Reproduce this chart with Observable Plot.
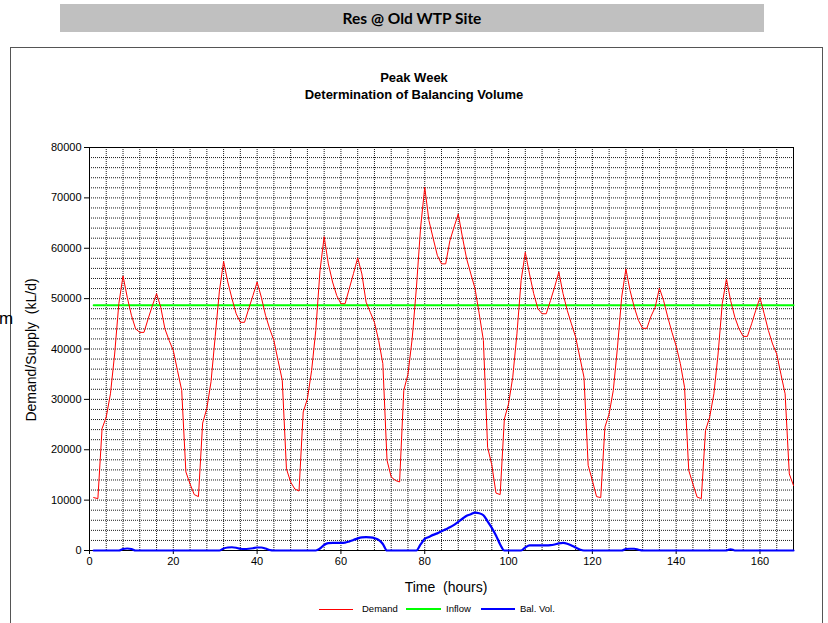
<!DOCTYPE html>
<html>
<head>
<meta charset="utf-8">
<script src="https://cdn.jsdelivr.net/npm/d3@7"></script>
<script src="https://cdn.jsdelivr.net/npm/@observablehq/plot@0.6"></script>
<style>
  html, body { margin: 0; padding: 0; background: #fff; }
  #wrap { position: relative; width: 828px; height: 623px; overflow: hidden; font-family: "Liberation Sans", Arial, sans-serif; color: #000; }
  #banner { position: absolute; left: 60px; top: 4px; width: 704px; height: 28px; background: #c0c0c0; }
  #bannerText { position: absolute; left: 0; top: 0; width: 100%; line-height: 28px; text-align: center; font-family: Lato, "Open Sans", sans-serif; font-weight: bold; font-size: 15.5px; }
  #border { position: absolute; left: 10px; top: 47px; width: 813px; height: 640px; border: 1px solid #555; box-sizing: border-box; }
  #title { position: absolute; left: 0; width: 828px; top: 69px; text-align: center; font-weight: bold; font-size: 13px; line-height: 17px; }
  #chart { position: absolute; left: 0; top: 0; }
  .abs { position: absolute; white-space: nowrap; }
  #ytitle { left: 31px; top: 350px; transform: translate(-50%, -50%) rotate(-90deg); font-size: 14px; }
  #xtitle { left: 446px; top: 587px; transform: translate(-50%, -50%); font-size: 14px; }
  #stray { left: -1px; top: 309px; font-size: 17px; }
  .lg-line { position: absolute; }
  .lg-text { position: absolute; top: 603px; font-size: 9.5px; line-height: 12px; }
</style>
</head>
<body>
<div id="wrap">
  <div id="banner"><div id="bannerText">Res @ Old WTP Site</div></div>
  <div id="border"></div>
  <div id="title">Peak Week<br>Determination of Balancing Volume</div>
  <div id="chart"></div>
  <div id="ytitle" class="abs">Demand/Supply&nbsp; (kL/d)</div>
  <div id="xtitle" class="abs">Time&nbsp; (hours)</div>
  <div id="stray" class="abs">m</div>
  <div class="lg-line" style="left:319px;top:609px;width:34px;height:1px;background:#ff0000;"></div>
  <div class="lg-text" style="left:362px;">Demand</div>
  <div class="lg-line" style="left:406px;top:608px;width:35px;height:2px;background:#00ff00;"></div>
  <div class="lg-text" style="left:446px;">Inflow</div>
  <div class="lg-line" style="left:481px;top:608px;width:34px;height:2px;background:#0000ff;"></div>
  <div class="lg-text" style="left:520px;">Bal. Vol.</div>
</div>
<script>
// ---- Data ----
// Hourly demand, kL/d, hours 1..168 (one row per day)
const demandDay1 = [10500, 10300, 24200, 26500, 31100, 39000, 49000, 54500, 50300, 46700, 44000, 43300, 43300, 46000, 48600, 51000, 48300, 44000, 41700, 39700, 35700, 31800, 15600, 13200];
const demandDay2 = [11100, 10700, 25300, 28200, 33500, 42500, 51500, 57400, 53300, 50000, 47000, 45300, 45300, 48000, 50600, 53300, 50300, 46700, 44000, 41700, 37700, 33800, 16200, 13600];
const demandDay3 = [12200, 11800, 27500, 30100, 35700, 43700, 55500, 62300, 56900, 53300, 50600, 49000, 49000, 52000, 55000, 58100, 54900, 49300, 47300, 45300, 41700, 37100, 17900, 14600];
const demandDay4 = [13900, 13600, 31800, 35000, 42000, 52000, 64000, 72100, 65500, 62000, 58600, 56900, 56900, 61500, 64200, 66800, 62200, 57900, 54900, 52000, 47000, 41700, 20500, 17000];
const demandDay5 = [11400, 11100, 26100, 29100, 34400, 43000, 53600, 59200, 54900, 51000, 48000, 47000, 47000, 49600, 52300, 55300, 51000, 47700, 45000, 42400, 38400, 34400, 16900, 13900];
const demandDay6 = [10700, 10500, 24500, 27100, 31800, 40400, 50300, 55900, 51600, 48300, 45700, 44100, 44100, 46500, 48300, 52100, 49600, 46300, 43300, 40600, 37100, 32400, 15900, 13200];
const demandDay7 = [10600, 10300, 23800, 26500, 31100, 39000, 49000, 53900, 49600, 46300, 44000, 42500, 42500, 45000, 47700, 50200, 47000, 43700, 41000, 39000, 35000, 31100, 15200, 12900];

// Constant supply (inflow), kL/d
const inflowValue = 48700;

// Balancing volume, kL, hours 1..168
const balVol = [
  0, 0, 0, 0, 0, 0, 0, 300, 400, 300, 0,
  0, 0, 0, 0, 0, 0, 0, 0, 0, 0, 0, 0, 0, 0, 0, 0, 0, 0, 0, 0,
  400, 600, 650, 550, 350, 300, 350, 450, 600, 600, 400, 100, 0,
  0, 0, 0, 0, 0, 0, 0, 0, 0, 0,
  400, 1100, 1450, 1500, 1500, 1500, 1550, 1800, 2100, 2400, 2600, 2650, 2600, 2450, 2100, 1300, 0,
  0, 0, 0, 0, 0, 0, 0,
  1200, 2300, 2700, 3100, 3400, 3800, 4200, 4600, 5100, 5700, 6300, 6900, 7200, 7500, 7400, 7000, 5800, 4500, 3000, 1200, 0,
  0, 0, 0, 0,
  600, 1000, 1000, 1000, 1000, 1000, 1050, 1200, 1400, 1500, 1350, 1000, 600, 200, 0,
  0, 0, 0, 0, 0, 0, 0, 0, 0,
  300, 350, 350, 150, 0,
  0, 0, 0, 0, 0, 0, 0, 0, 0, 0, 0, 0, 0, 0, 0, 0, 0, 0, 0, 0,
  250, 0,
  0, 0, 0, 0, 0, 0, 0, 0, 0, 0, 0, 0, 0, 0
];

// Axis ticks
const xTicks = [0, 20, 40, 60, 80, 100, 120, 140, 160];
const yTicks = [0, 10000, 20000, 30000, 40000, 50000, 60000, 70000, 80000];
const xGrid = d3.range(0, 169, 4);
const yGrid = d3.range(0, 80001, 2000);

// ---- Build table ----
const demand = [].concat(demandDay1, demandDay2, demandDay3, demandDay4, demandDay5, demandDay6, demandDay7);
const rows = demand.map((v, i) => ({hour: i + 1, demand: v, inflow: inflowValue, bal: balVol[i]}));

const chart = Plot.plot({
  width: 828,
  height: 623,
  marginLeft: 89,
  marginRight: 35,
  marginTop: 147,
  marginBottom: 73,
  style: {background: "transparent", fontFamily: "'Liberation Sans', Arial, sans-serif", fontSize: "11px", color: "#000"},
  x: {domain: [0, 168], label: null},
  y: {domain: [0, 80000], label: null},
  marks: [
    Plot.gridX(xGrid, {stroke: "#000", strokeOpacity: 0.9, strokeDasharray: "1,1"}),
    Plot.gridY(yGrid, {stroke: "#000", strokeOpacity: 0.9, strokeDasharray: "1,1"}),
    Plot.frame({stroke: "#000", strokeWidth: 1}),
    Plot.axisX(xTicks, {tickSize: 4, tickPadding: 3, fontSize: 11, label: null}),
    Plot.axisY(yTicks, {tickSize: 5, tickPadding: 3, fontSize: 11, tickFormat: d3.format("d"), label: null}),
    Plot.line(rows, {x: "hour", y: "inflow", stroke: "#00ff00", strokeWidth: 2}),
    Plot.line(rows, {x: "hour", y: "demand", stroke: "#ff0000", strokeWidth: 1}),
    Plot.line(rows, {x: "hour", y: "bal", stroke: "#0000ff", strokeWidth: 2.2, curve: "monotone-x"})
  ]
});
document.getElementById("chart").appendChild(chart);
</script>
</body>
</html>
